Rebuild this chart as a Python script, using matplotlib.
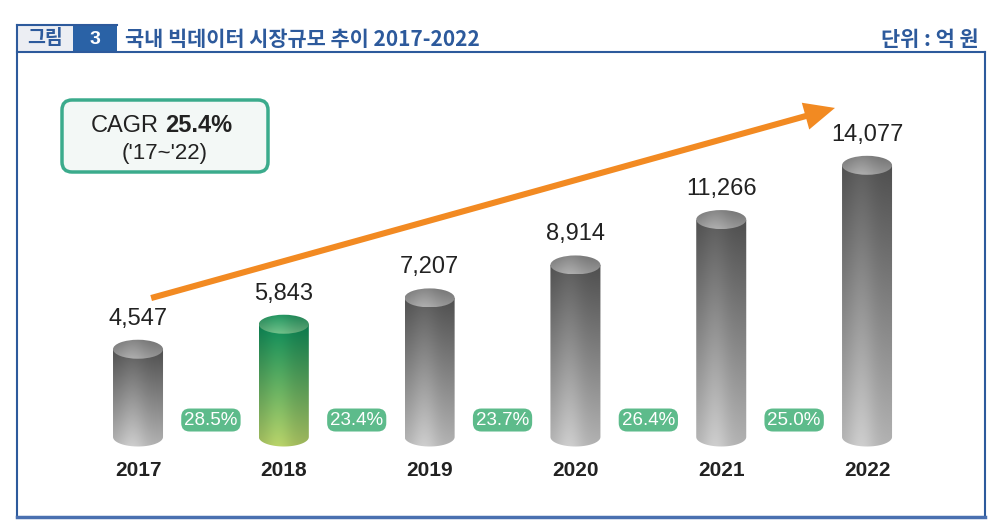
import numpy as np
import matplotlib
matplotlib.use("Agg")
import matplotlib.pyplot as plt
from matplotlib.patches import Rectangle, FancyBboxPatch, Ellipse, PathPatch
from matplotlib.path import Path
from matplotlib.colors import to_rgb

plt.rcParams['font.family'] = ['Liberation Sans', 'Noto Sans CJK KR', 'DejaVu Sans']

# data
years = ['2017', '2018', '2019', '2020', '2021', '2022']
market_size = [4547, 5843, 7207, 8914, 11266, 14077]
growth = ['28.5%', '23.4%', '23.7%', '26.4%', '25.0%']
cagr = '25.4%'
cagr_period = "('17~'22)"
fig_no = '3'
title = '국내 빅데이터 시장규모 추이 2017-2022'
unit = '단위 : 억 원'
highlight = '2018'

W, H = 993, 529
BLUE = '#2d5a9c'
KR = ['Noto Sans CJK KR', 'DejaVu Sans']

fig = plt.figure(figsize=(W / 100, H / 100), dpi=100)

# background / frame axes in pixel units
bg = fig.add_axes([0, 0, 1, 1])
bg.set_xlim(0, W)
bg.set_ylim(H, 0)
bg.axis('off')

bg.add_patch(Rectangle((17, 25), 56, 27, fc='#eceef3', ec='none'))
bg.add_patch(Rectangle((73, 25), 44, 27, fc='#2a62a6', ec='none'))
bg.plot([17, 117], [25, 25], color=BLUE, lw=1.5)
bg.plot([17, 17], [25, 517], color=BLUE, lw=1.5)
bg.plot([17, 985], [52, 52], color=BLUE, lw=1.5)
bg.plot([985, 985], [52, 517], color=BLUE, lw=1.5)
bg.plot([17, 985], [517, 517], color='#4a70b0', lw=2.5)

bg.text(45, 39, '그림', family=KR, fontsize=14, fontweight='bold', color=BLUE,
        ha='center', va='center')
bg.text(95, 39, fig_no, fontsize=14, fontweight='bold', color='white',
        ha='center', va='center')
bg.text(125, 39, title, family=KR, fontsize=15, fontweight='bold', color=BLUE,
        ha='left', va='center')
bg.text(979, 39, unit, family=KR, fontsize=15, fontweight='bold', color=BLUE,
        ha='right', va='center')

# CAGR box
bg.add_patch(FancyBboxPatch((62, 100), 206, 72, boxstyle='round,pad=0,rounding_size=10',
                            fc='#f3f8f6', ec='#3bab8c', lw=2.5))
bg.text(159, 126, 'CAGR', fontsize=17, color='#222222', ha='right', va='center')
bg.text(165, 126, cagr, fontsize=17, fontweight='bold', color='#222222',
        ha='left', va='center')
bg.text(165, 154, cagr_period, fontsize=16, color='#222222', ha='center', va='center')

# chart axes: x = year index, y = value
ax = fig.add_axes([17 / W, 12 / H, 968 / W, 465 / H])
ax.patch.set_alpha(0)
ax.axis('off')

px_per_idx = 145.8
px_per_val = 0.0193
bw = 50 / px_per_idx          # cylinder width
eh = 9.5 / px_per_val         # half height of ellipse


def gradient(c_top, c_bot, n=200, m=60):
    t = np.linspace(0, 1, n)[:, None, None]
    a = np.array(to_rgb(c_top))
    b = np.array(to_rgb(c_bot))
    img = a * (1 - t) + b * t
    xs = np.linspace(-1, 1, m)
    f = 0.9 + 0.14 * np.exp(-((xs + 0.25) / 0.55) ** 2)
    return np.clip(img * f[None, :, None], 0, 1)


def cylinder(i, v, body, cap):
    x0, x1 = i - bw / 2, i + bw / 2
    th = np.linspace(np.pi, 2 * np.pi, 40)
    verts = [(x0, v), (x0, 0)]
    verts += list(zip(i + bw / 2 * np.cos(th), eh * np.sin(th)))
    verts += [(x1, v), (x0, v)]
    codes = [Path.MOVETO] + [Path.LINETO] * (len(verts) - 2) + [Path.CLOSEPOLY]
    pp = PathPatch(Path(verts, codes), fc='none', ec='none')
    ax.add_patch(pp)
    im = ax.imshow(gradient(*body), extent=[x0, x1, -eh, v], aspect='auto',
                   origin='upper', zorder=2)
    im.set_clip_path(pp)
    el = Ellipse((i, v), bw, 2 * eh, fc='none', ec='none')
    ax.add_patch(el)
    im2 = ax.imshow(gradient(*cap), extent=[x0, x1, v - eh, v + eh], aspect='auto',
                    origin='upper', zorder=3)
    im2.set_clip_path(el)


for i, (yr, v) in enumerate(zip(years, market_size)):
    if yr == highlight:
        cylinder(i, v, ('#0b8656', '#b3cc66'), ('#1f8f5c', '#6fbb86'))
    else:
        cylinder(i, v, ('#585858', '#c6c6c6'), ('#7e7e7e', '#a8a8a8'))
    ax.annotate(f'{v:,}', xy=(i, v + eh), xytext=(0, 10), textcoords='offset pixels',
                ha='center', va='bottom', fontsize=17, color='#222222')
    ax.text(i, -1710, yr, ha='center', va='center', fontsize=15, fontweight='bold',
            color='#222222')

for i, g in enumerate(growth):
    ax.text(i + 0.5, 880, g, ha='center', va='center', fontsize=13.5, color='white',
            zorder=5,
            bbox=dict(boxstyle='round,pad=0.16,rounding_size=0.45', fc='#5dbb8b', ec='none'))

# CAGR trend arrow
ax.annotate('', xy=(4.78, 17050), xytext=(0.09, 7200),
            arrowprops=dict(arrowstyle='simple,head_length=1.1,head_width=1.0,tail_width=0.22',
                            mutation_scale=20, fc='#f28a22', ec='none',
                            shrinkA=0, shrinkB=0), zorder=4)

ax.set_xlim(-0.83, 5.809)
ax.set_ylim(-4145, 19948)

fig.savefig('out.png', dpi=100)
